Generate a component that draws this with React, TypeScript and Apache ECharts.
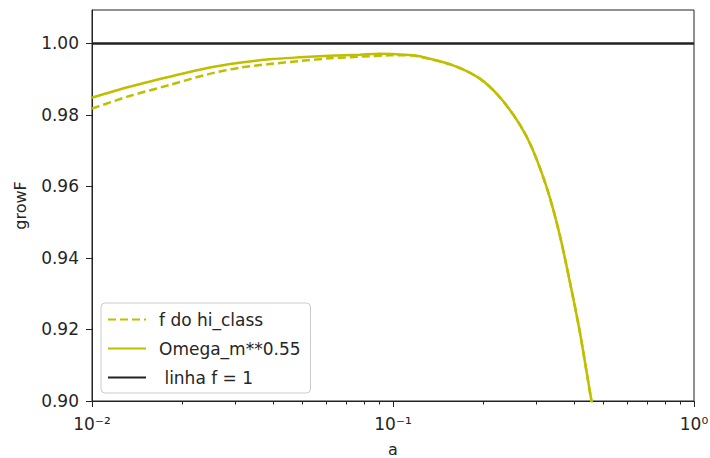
import React, { useEffect, useRef } from "react";
import * as echarts from "echarts";

const aValues = [0.01, 0.01332, 0.01809, 0.02419, 0.0309, 0.03887, 0.0489, 0.06152, 0.07737, 0.09018, 0.1134, 0.1225, 0.1576, 0.1938, 0.2258, 0.2632, 0.2907, 0.3262, 0.3574, 0.3858, 0.4165, 0.4565, 0.467];
const omegaValues = [0.9848, 0.98788, 0.99068, 0.99315, 0.9946, 0.99555, 0.99611, 0.99656, 0.99684, 0.99709, 0.99675, 0.99639, 0.99395, 0.99023, 0.98508, 0.97744, 0.97044, 0.95897, 0.94672, 0.93378, 0.91979, 0.9, 0.896];
const hiClassDenseA = [0.01, 0.01332, 0.01809, 0.02419, 0.0309, 0.03887, 0.0489, 0.06152, 0.07737, 0.09736, 0.1134, 0.1225, 0.1576, 0.1938, 0.2258, 0.2632, 0.2907, 0.3262, 0.3574, 0.3858, 0.4165, 0.4565, 0.467];
const hiClassValues = [0.98178, 0.98528, 0.98836, 0.99135, 0.9932, 0.99423, 0.99507, 0.99583, 0.99628, 0.99667, 0.99668, 0.99634, 0.99393, 0.99022, 0.98507, 0.97744, 0.97044, 0.95897, 0.94672, 0.93378, 0.91979, 0.9, 0.896];
const lineA = [0.01, 1];
const lineF = [1, 1];
const yTicks = [0.9, 0.92, 0.94, 0.96, 0.98, 1.0];
const xMajor = [0.01, 0.1, 1];
const xMinor = [0.02, 0.03, 0.04, 0.05, 0.06, 0.07, 0.08, 0.09, 0.2, 0.3, 0.4, 0.5, 0.6, 0.7, 0.8, 0.9];
const xLabels: Record<string, string> = { "0.01": "10⁻²", "0.1": "10⁻¹", "1": "10⁰" };
const names = ["f do hi_class", "Omega_m**0.55", " linha f = 1"];

const FONT = "DejaVu Sans";
const OLIVE = "#bfbf00";
const DARK = "#222222";

export default function App() {
  const ref = useRef<HTMLDivElement>(null);
  useEffect(() => {
    if (!ref.current) return;
    const chart = echarts.init(ref.current, undefined, { renderer: "svg" });
    const pair = (xs: number[], ys: number[]) => xs.map((x, i) => [x, ys[i]]);
    chart.setOption({
      animation: false,
      textStyle: { fontFamily: FONT },
      grid: {
        left: 92,
        right: 16,
        top: 10,
        bottom: 57,
        outerBoundsMode: "none",
        containLabel: false,
        show: true,
        borderColor: DARK,
        borderWidth: 1,
        backgroundColor: "transparent",
      },
      legend: {
        left: 101,
        top: 303,
        orient: "vertical",
        itemWidth: 38,
        itemHeight: 14,
        itemGap: 12,
        padding: [8, 10, 7, 6],
        backgroundColor: "rgba(255,255,255,0.8)",
        borderColor: "#cccccc",
        borderWidth: 1,
        borderRadius: 4,
        itemStyle: { opacity: 0 },
        textStyle: { fontFamily: FONT, fontSize: 17, color: "#262626", padding: [0, 0, 0, 8] },
        data: names,
      },
      xAxis: [
        {
          type: "log",
          logBase: 10,
          min: 0.01,
          max: 1,
          name: "a",
          nameLocation: "middle",
          nameGap: 40,
          nameTextStyle: { fontFamily: FONT, fontSize: 16, color: "#262626" },
          axisLine: { show: true, lineStyle: { color: DARK, width: 1 } },
          axisTick: { show: true, inside: false, length: 6, lineStyle: { color: DARK }, customValues: xMajor },
          axisLabel: {
            show: true,
            margin: 14,
            fontFamily: FONT,
            fontSize: 17,
            color: "#262626",
            customValues: xMajor,
            formatter: (v: number) => xLabels[String(+v.toPrecision(3))] ?? "",
          },
          splitLine: { show: false },
          minorTick: { show: false },
        },
        {
          type: "log",
          logBase: 10,
          min: 0.01,
          max: 1,
          position: "bottom",
          axisLine: { show: false },
          axisTick: { show: true, inside: false, length: 3.5, lineStyle: { color: DARK }, customValues: xMinor },
          axisLabel: { show: false },
          splitLine: { show: false },
        },
      ],
      yAxis: {
        type: "value",
        min: 0.9,
        max: 1.00935,
        name: "growF",
        nameLocation: "middle",
        nameGap: 64,
        nameTextStyle: { fontFamily: FONT, fontSize: 16, color: "#262626" },
        axisLine: { show: true, lineStyle: { color: DARK, width: 1 } },
        axisTick: { show: true, inside: false, length: 6, lineStyle: { color: DARK }, customValues: yTicks },
        axisLabel: {
          margin: 13,
          fontFamily: FONT,
          fontSize: 17,
          color: "#262626",
          customValues: yTicks,
          formatter: (v: number) => v.toFixed(2),
        },
        splitLine: { show: false },
      },
      series: [
        {
          name: names[0],
          type: "line",
          data: pair(hiClassDenseA, hiClassValues),
          symbol: "none",
          smooth: 0.3,
          clip: true,
          lineStyle: { color: OLIVE, width: 2.5, type: [8, 4] },
          itemStyle: { color: OLIVE },
        },
        {
          name: names[1],
          type: "line",
          data: pair(aValues, omegaValues),
          symbol: "none",
          smooth: 0.3,
          clip: true,
          lineStyle: { color: OLIVE, width: 2.5 },
          itemStyle: { color: OLIVE },
        },
        {
          name: names[2],
          type: "line",
          data: pair(lineA, lineF),
          symbol: "none",
          lineStyle: { color: DARK, width: 2.5 },
          itemStyle: { color: DARK },
        },
      ],
    });
    return () => chart.dispose();
  }, []);
  return <div ref={ref} style={{ width: 710, height: 458, position: "absolute", left: 0, top: 0, background: "#fff" }} />;
}
